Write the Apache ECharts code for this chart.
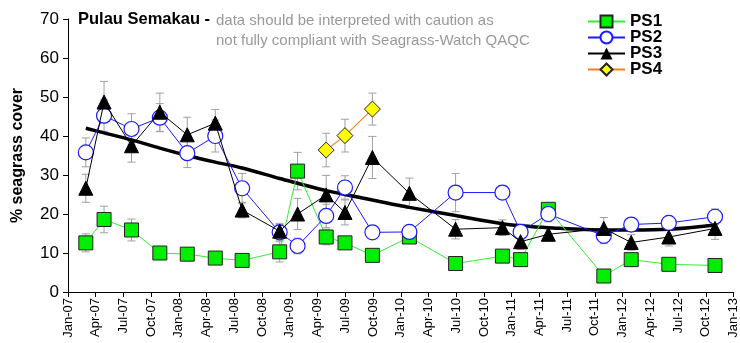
<!DOCTYPE html>
<html><head><meta charset="utf-8">
<script src="https://cdn.jsdelivr.net/npm/echarts@6/dist/echarts.min.js"></script>
<style>html,body{margin:0;padding:0;background:#fff}#c{width:740px;height:343px}</style>
</head><body><div id="c"></div>
<script>
// Survey dates
const dates = ["2007-02-27","2007-04-28","2007-07-28","2007-10-30","2008-01-29","2008-04-29","2008-07-27","2008-11-28","2009-01-27","2009-04-29","2009-06-30","2009-09-29","2010-01-30","2010-06-29","2010-12-01","2011-01-31","2011-04-30","2011-10-31","2012-01-30","2012-06-01","2012-11-01"];
const ps1 = [12.6,18.6,15.9,10.0,9.7,8.7,8.1,10.3,31.0,14.1,12.6,9.4,14.1,7.3,9.2,8.3,21.2,4.1,8.3,7.1,6.8];
const ps1Err = [2.3,3.4,2.8,1.2,1.0,1.0,1.0,2.6,4.8,2.0,1.5,1.2,1.5,1.0,1.2,1.0,1.5,1.0,1.0,1.0,1.2];
const ps2 = [35.8,45.2,41.8,44.7,35.6,40.0,26.6,15.3,11.8,19.5,26.8,15.3,15.4,25.5,25.5,15.4,20.0,14.4,17.3,17.7,19.3];
const ps2Err = [3.7,4.0,3.9,3.6,3.7,4.1,3.8,2.0,2.0,3.0,3.0,1.5,1.5,4.9,1.8,2.0,2.0,2.0,1.5,1.5,2.0];
const ps3 = [26.6,48.7,37.5,46.1,40.3,43.3,21.0,15.6,20.0,24.9,20.4,34.5,25.3,16.1,16.5,12.9,14.8,16.3,12.7,14.1,16.3];
const ps3Err = [3.6,5.3,4.2,4.9,4.5,3.5,2.0,2.0,4.0,5.0,3.2,5.4,3.9,2.5,2.0,2.0,1.5,2.8,2.0,2.3,2.8];
const ps4Dates = ["2009-04-29","2009-06-30","2009-09-29"];
const ps4 = [36.4,40.1,46.9];
const ps4Err = [4.3,4.2,4.1];
const trend = [42.0,40.8,39.0,36.9,35.0,33.3,31.8,29.1,27.9,26.0,25.0,23.6,21.7,19.6,17.5,17.0,16.5,15.9,15.9,16.1,17.2];
const monthNames = ["Jan","Feb","Mar","Apr","May","Jun","Jul","Aug","Sep","Oct","Nov","Dec"];
const yTicks = [0,10,20,30,40,50,60,70];

function mi(s){const p=s.split('-').map(Number);const dim=new Date(p[0],p[1],0).getDate();return (p[0]-2007)*12+(p[1]-1)+(p[2]-1)/dim;}
const xs = dates.map(mi), xs4 = ps4Dates.map(mi);
const pairs = (x,v)=>x.map((xx,i)=>[xx,v[i]]);
const errData = (x,v,e)=>x.map((xx,i)=>[xx,v[i]-e[i],v[i]+e[i]]);

function errSeries(x,v,e){
  return {type:'custom',z:1,silent:true,data:errData(x,v,e),
    encode:{x:0,y:[1,2]},
    renderItem:function(params,api){
      const lo=api.coord([api.value(0),api.value(1)]);
      const hi=api.coord([api.value(0),api.value(2)]);
      const st={stroke:'#a0a0a0',lineWidth:1};
      return {type:'group',children:[
        {type:'line',shape:{x1:lo[0],y1:lo[1],x2:hi[0],y2:hi[1]},style:st},
        {type:'line',shape:{x1:lo[0]-4,y1:lo[1],x2:lo[0]+4,y2:lo[1]},style:st},
        {type:'line',shape:{x1:hi[0]-4,y1:hi[1],x2:hi[0]+4,y2:hi[1]},style:st}
      ]};
    }};
}

const chart = echarts.init(document.getElementById('c'),null,{renderer:'canvas'});
chart.setOption({
  animation:false,
  backgroundColor:'#fff',
  textStyle:{fontFamily:'Liberation Sans, Arial, sans-serif'},
  grid:{left:68,right:5,top:19,bottom:51,containLabel:false},
  xAxis:{type:'value',min:0,max:72,interval:3,
    axisLine:{show:true,lineStyle:{color:'#000',width:1}},
    axisTick:{show:true,inside:false,length:5,lineStyle:{color:'#000'}},
    splitLine:{show:false},
    axisLabel:{rotate:90,fontSize:13,color:'#000',margin:6,
      formatter:function(v){const y=2007+Math.floor(v/12);const m=v%12;return monthNames[m]+'-'+String(y).slice(2);}}
  },
  yAxis:{type:'value',min:0,max:70,interval:10,
    name:'% seagrass cover',nameLocation:'middle',nameGap:42,nameRotate:90,
    nameTextStyle:{fontSize:16,fontWeight:'bold',color:'#000'},
    axisLine:{show:true,lineStyle:{color:'#000',width:1}},
    axisTick:{show:true,inside:false,length:5,lineStyle:{color:'#000'}},
    splitLine:{show:false},
    axisLabel:{fontSize:17,color:'#000',margin:9}
  },
  legend:{orient:'vertical',left:585,top:11,itemWidth:37,itemHeight:15,itemGap:-1,padding:2,
    textStyle:{fontSize:17,fontWeight:'bold',color:'#000',lineHeight:15},
    data:['PS1','PS2','PS3','PS4']},
  graphic:[
    {type:'text',left:78,top:11,style:{text:'Pulau Semakau -',font:'bold 16.5px "Liberation Sans", Arial, sans-serif',fill:'#000'}},
    {type:'text',left:216,top:11,style:{text:'data should be interpreted with caution as\nnot fully compliant with Seagrass-Watch QAQC',font:'15px "Liberation Sans", Arial, sans-serif',fill:'#999',lineHeight:20}}
  ],
  series:[
    errSeries(xs,ps1,ps1Err),
    errSeries(xs,ps2,ps2Err),
    errSeries(xs,ps3,ps3Err),
    errSeries(xs4,ps4,ps4Err),
    {name:'Trend',type:'line',z:2,data:pairs(xs,trend),showSymbol:false,symbol:'none',smooth:0.3,
      lineStyle:{color:'#000',width:3.5}},
    {name:'PS1',type:'line',z:3,data:pairs(xs,ps1),symbol:'rect',symbolSize:14,
      lineStyle:{color:'#33ee33',width:1},itemStyle:{color:'#00ee00',borderColor:'#222',borderWidth:1}},
    {name:'PS2',type:'line',z:4,data:pairs(xs,ps2),symbol:'circle',symbolSize:15,
      lineStyle:{color:'#1a1aff',width:1},itemStyle:{color:'#fff',borderColor:'#1a1aff',borderWidth:1.2}},
    {name:'PS3',type:'line',z:5,data:pairs(xs,ps3),symbol:'triangle',symbolSize:14,
      lineStyle:{color:'#000',width:1},itemStyle:{color:'#000',borderColor:'#000'}},
    {name:'PS4',type:'line',z:6,data:pairs(xs4,ps4),symbol:'diamond',symbolSize:16,
      lineStyle:{color:'#ff7f27',width:1.2},itemStyle:{color:'#ffff00',borderColor:'#222',borderWidth:1}}
  ]
});
</script></body></html>
